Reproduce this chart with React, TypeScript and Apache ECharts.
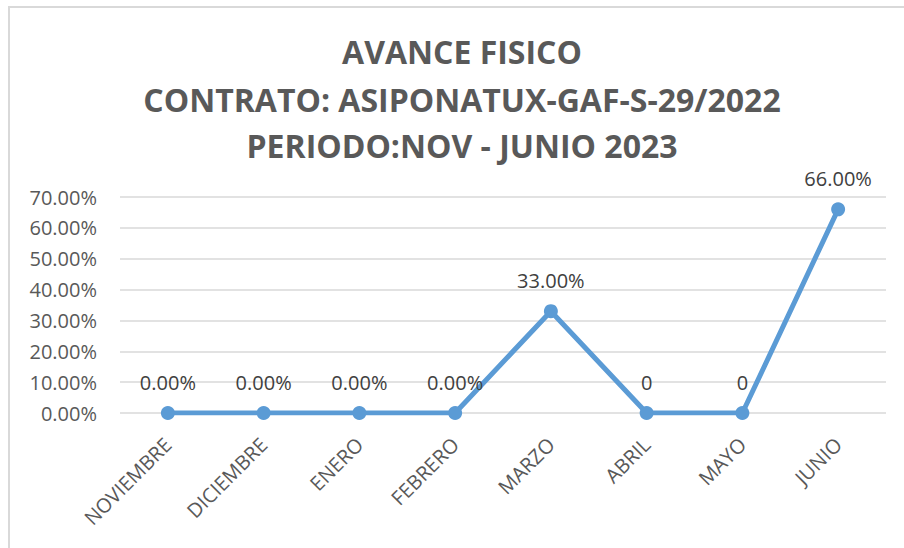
import React, { useEffect, useRef } from "react";
import * as echarts from "echarts";

const categories = ["NOVIEMBRE", "DICIEMBRE", "ENERO", "FEBRERO", "MARZO", "ABRIL", "MAYO", "JUNIO"];
const values = [0, 0, 0, 0, 33, 0, 0, 66];
const pointLabels = ["0.00%", "0.00%", "0.00%", "0.00%", "33.00%", "0", "0", "66.00%"];
const titleLines = ["AVANCE FISICO", "CONTRATO: ASIPONATUX-GAF-S-29/2022", "PERIODO:NOV - JUNIO 2023"];
const yMin = 0;
const yMax = 70;
const yStep = 10;

const titleY = [51, 99, 145];

export default function App() {
  const ref = useRef<HTMLDivElement>(null);
  useEffect(() => {
    if (!ref.current) return;
    const chart = echarts.init(ref.current, null, { renderer: "svg" });
    const titleTexts = titleLines.map((t, i) => ({
      type: "text",
      x: 462,
      y: titleY[i],
      style: {
        text: t,
        textAlign: "center",
        textVerticalAlign: "middle",
        fontFamily: "Open Sans",
        fontWeight: "bold",
        fontSize: 32,
        fill: "#595959",
      },
    }));
    chart.setOption({
      animation: false,
      backgroundColor: "#ffffff",
      graphic: [
        { type: "line", shape: { x1: 9, y1: 6, x2: 9, y2: 548 }, style: { stroke: "#D9D9D9", lineWidth: 2 } },
        { type: "line", shape: { x1: 8, y1: 7, x2: 904, y2: 7 }, style: { stroke: "#D9D9D9", lineWidth: 2 } },
        ...titleTexts,
      ],
      grid: { left: 120, right: 18, top: 197, bottom: 135, containLabel: false },
      xAxis: {
        type: "category",
        data: categories,
        boundaryGap: true,
        axisLine: { show: false },
        axisTick: { show: false },
        axisLabel: {
          rotate: 45,
          margin: 28,
          interval: 0,
          fontFamily: "Open Sans",
          fontSize: 20,
          color: "#595959",
        },
      },
      yAxis: {
        type: "value",
        min: yMin,
        max: yMax,
        interval: yStep,
        axisLine: { show: false },
        axisTick: { show: false },
        splitLine: { lineStyle: { color: "#D9D9D9", width: 1.5 } },
        axisLabel: {
          margin: 23,
          fontFamily: "Open Sans",
          fontSize: 20,
          color: "#595959",
          formatter: (v: number) => v.toFixed(2) + "%",
        },
      },
      series: [
        {
          type: "line",
          data: values,
          symbol: "circle",
          symbolSize: 14,
          lineStyle: { color: "#5B9BD5", width: 5 },
          itemStyle: { color: "#5B9BD5" },
          label: {
            show: true,
            position: "top",
            distance: 14,
            fontFamily: "Open Sans",
            fontSize: 20,
            color: "#404040",
            formatter: (p: any) => pointLabels[p.dataIndex],
          },
        },
      ],
    });
    return () => chart.dispose();
  }, []);
  return (
    <div
      ref={ref}
      style={{ position: "fixed", left: 0, top: 0, width: 904, height: 548 }}
    />
  );
}
